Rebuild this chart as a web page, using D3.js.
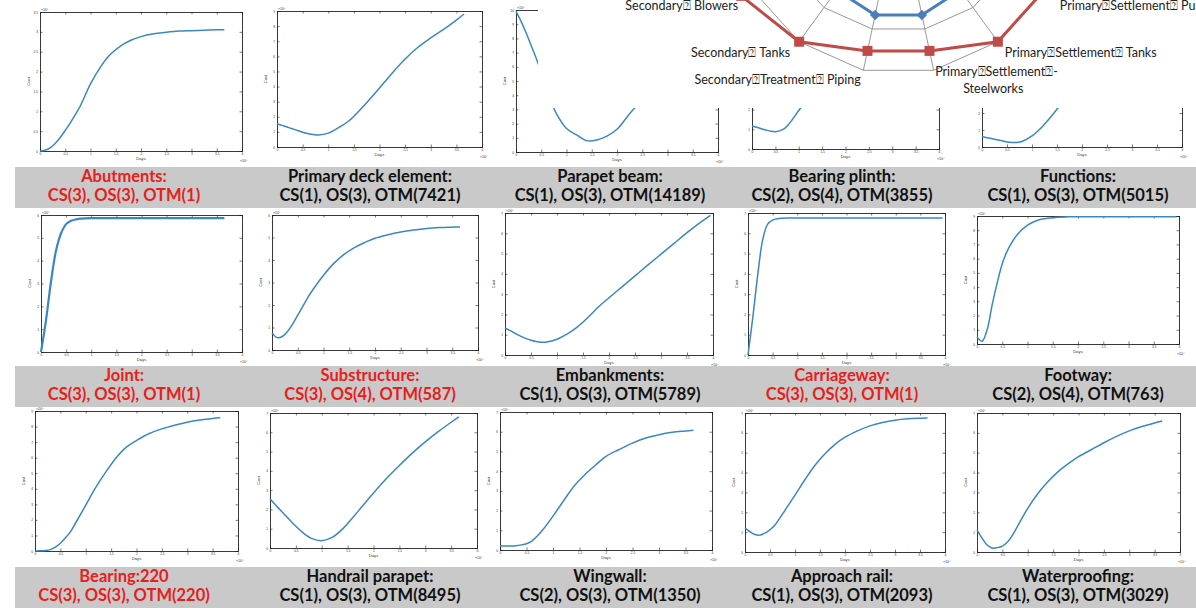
<!DOCTYPE html>
<html><head><meta charset="utf-8">
<script src="https://cdn.jsdelivr.net/npm/d3@7"></script>
<style>body{margin:0;background:#fff}svg{display:block}</style>
</head><body>
<svg id="c" width="1196" height="608"></svg>
<script>
// ---------- DATA ----------
const days = [0,0.1,0.2,0.3,0.4,0.5,0.6,0.7,0.8,1.0,1.2,1.4,1.6,1.8,2.0,2.25,2.5,2.75,3.0,3.25,3.5,3.65,3.95]; // x10^4
const abutments     = [0,0.02,0.08,0.19,0.34,0.52,0.71,0.92,1.14,1.69,2.12,2.44,2.65,2.79,2.88,2.95,2.99,3.02,3.03,3.04,3.05,3.05,null];
const primaryDeck   = [1.54,1.43,1.32,1.21,1.09,0.98,0.89,0.82,0.80,0.92,1.28,1.72,2.38,3.12,3.90,4.90,5.82,6.60,7.22,7.78,8.40,8.80,null];
const parapetBeam   = [9.9,9.2,8.4,7.5,6.6,5.6,4.6,3.5,2.7,1.65,1.2,0.8,0.85,1.12,1.6,2.7,3.7,4.8,5.8,6.9,8.0,8.6,null];
const bearingPlinth = [1.17,1.1,1.03,0.96,0.9,0.88,0.93,1.05,1.3,1.95,2.6,3.2,3.8,4.3,4.8,5.3,5.7,6.0,6.25,6.45,6.6,6.65,null];
const functionsCost = [0.62,0.55,0.49,0.43,0.37,0.3,0.27,0.27,0.32,0.65,1.18,1.85,2.6,3.35,4.1,4.9,5.6,6.2,6.7,7.1,7.4,7.55,null];
const joint         = [0,1.4,3.1,4.45,5.2,5.6,5.75,5.81,5.84,5.86,5.86,5.86,5.86,5.86,5.86,5.86,5.86,5.86,5.86,5.86,5.86,5.86,null];
const substructure  = [0.76,0.55,0.6,0.82,1.15,1.55,1.95,2.35,2.7,3.32,3.85,4.25,4.55,4.78,4.97,5.12,5.24,5.33,5.4,5.44,5.46,5.47,null];
const embankments   = [1.33,1.2,1.06,0.93,0.82,0.73,0.66,0.63,0.64,0.78,1.04,1.4,1.86,2.38,2.82,3.36,3.9,4.44,4.97,5.5,6.03,6.33,6.88];
const carriageway   = [0,1.9,4.0,5.7,6.45,6.65,6.72,6.74,6.75,6.75,6.75,6.75,6.75,6.75,6.75,6.75,6.75,6.75,6.75,6.75,6.75,6.75,6.75];
const footway       = [0.47,0.2,1.0,2.75,4.3,5.65,6.55,7.2,7.7,8.35,8.7,8.84,8.92,8.94,8.95,8.95,8.95,8.95,8.95,8.95,8.95,8.95,8.95];
const bearing       = [0,0.01,0.03,0.09,0.25,0.5,0.85,1.25,1.8,2.95,4.1,5.1,6.0,6.68,7.1,7.55,7.85,8.08,8.28,8.42,8.52,8.56,null];
const handrail      = [2.55,2.25,1.97,1.68,1.4,1.13,0.88,0.66,0.5,0.38,0.55,0.98,1.58,2.22,2.85,3.6,4.28,4.92,5.5,6.03,6.52,6.8,null];
const wingwall      = [0.2,0.2,0.2,0.22,0.26,0.32,0.45,0.7,1.0,1.72,2.5,3.25,3.82,4.3,4.75,5.1,5.42,5.68,5.85,5.97,6.04,6.08,null];
const approachRail  = [1.2,1.02,0.88,0.85,0.95,1.12,1.36,1.72,2.1,2.86,3.65,4.37,4.95,5.42,5.78,6.1,6.35,6.52,6.64,6.71,6.74,6.75,null];
const waterproofing = [1.1,0.7,0.35,0.2,0.22,0.3,0.5,0.85,1.3,2.2,2.95,3.55,4.05,4.45,4.8,5.15,5.5,5.82,6.1,6.32,6.5,6.6,null];

const panelSeries = [abutments, primaryDeck, parapetBeam, bearingPlinth, functionsCost,
                     joint, substructure, embankments, carriageway, footway,
                     bearing, handrail, wingwall, approachRail, waterproofing];
const panelYMax   = [3.5, 9, 10, 7, 8, 6, 6, 7, 7, 9, 9, 7, 7, 7, 7];
const panelYStep  = [0.5, 1, 1, 1, 1, 1, 1, 1, 1, 1, 1, 1, 1, 1, 1];
const panelTitles = ["Abutments:", "Primary deck element:", "Parapet beam:", "Bearing plinth:", "Functions:",
                     "Joint:", "Substructure:", "Embankments:", "Carriageway:", "Footway:",
                     "Bearing:220", "Handrail parapet:", "Wingwall:", "Approach rail:", "Waterproofing:"];
const panelStats  = ["CS(3), OS(3), OTM(1)", "CS(1), OS(3), OTM(7421)", "CS(1), OS(3), OTM(14189)", "CS(2), OS(4), OTM(3855)", "CS(1), OS(3), OTM(5015)",
                     "CS(3), OS(3), OTM(1)", "CS(3), OS(4), OTM(587)", "CS(1), OS(3), OTM(5789)", "CS(3), OS(3), OTM(1)", "CS(2), OS(4), OTM(763)",
                     "CS(3), OS(3), OTM(220)", "CS(1), OS(3), OTM(8495)", "CS(2), OS(3), OTM(1350)", "CS(1), OS(3), OTM(2093)", "CS(1), OS(3), OTM(3029)"];
const panelCritical = [true,false,false,false,false, true,true,false,true,false, true,false,false,false,false];
const xTicks = [0,0.5,1,1.5,2,2.5,3,3.5,4];

// radar (15 categories, first at top, clockwise); only the lower ones are visible
const radarCategories = ["","","","","","Primary\u2370Settlement\u2370 Pumps","Primary\u2370Settlement\u2370 Tanks",
  "Primary\u2370Settlement\u2370-|Steelworks","Secondary\u2370Treatment\u2370 Piping","Secondary\u2370 Tanks","Secondary\u2370 Blowers","","","",""];
const radarRed  = [4,4,4,4,4,4.0,4.0,3.53,3.53,4.0,4.3,4,4,4,4];
const radarBlue = [2.5,2.5,2.5,2.5,2.5,2.5,2.49,2.66,2.66,2.49,2.5,2.5,2.5,2.5,2.5];
const radarRings = [1,2,3,4];

// ---------- LAYOUT ----------
const frames = [ // x0,x1,y0,y1
  [40,242,12,151],[277,482,11,147],[516,718,10,152],[752,939,11,149],[982,1182,11,147],
  [41,242,215,352],[272,478,215,350],[505,713,213,355],[748,945,213,355],[977,1179,216,344],
  [35,238,411,551],[270,477,413,548],[500,712,412,550],[745,945,413,552],[977,1180,413,552]];
const labelCx = [124,370,610,842,1078];
const bands = [[167,208],[366,407],[567,608]];
// radar label offsets from each axis' outer vertex (layout only)
const radarLabelDx = [0,0,0,0,0,15,7,1.5,-2.5,-9,-14,0,0,0,0];
const radarLabelDy = [0,0,0,0,0,16,11,1,9.5,11,16,0,0,0,0];

const svg = d3.select("#c");
const lineColor = "#3a88bf";

// ---------- PANELS ----------
panelSeries.forEach((vals, i) => {
  const [x0,x1,y0,y1] = frames[i];
  const g = svg.append("g");
  const x = d3.scaleLinear().domain([0,4]).range([x0,x1]);
  const y = d3.scaleLinear().domain([0,panelYMax[i]]).range([y1,y0]);
  const yTicks = d3.range(0, panelYMax[i] + 1e-9, panelYStep[i]);
  const fmt = d3.format("~g");
  const tickFont = "Liberation Sans, Arial, sans-serif";

  const axB = d3.axisBottom(x).tickValues(xTicks).tickSize(-2.5).tickPadding(2).tickFormat(fmt);
  const axT = d3.axisTop(x).tickValues(xTicks).tickSize(-2.5).tickFormat("");
  const axL = d3.axisLeft(y).tickValues(yTicks).tickSize(-2.5).tickPadding(2).tickFormat(fmt);
  const axR = d3.axisRight(y).tickValues(yTicks).tickSize(-2.5).tickFormat("");
  [[axB,`translate(0,${y1})`],[axT,`translate(0,${y0})`],[axL,`translate(${x0},0)`],[axR,`translate(${x1},0)`]].forEach(([ax,tr])=>{
    const a = g.append("g").attr("transform",tr).call(ax);
    a.select(".domain").attr("stroke","#222").attr("stroke-width",0.9);
    a.selectAll(".tick line").attr("stroke","#222").attr("stroke-width",0.6);
    a.selectAll("text").attr("font-size",3.2).attr("fill","#333").attr("font-family",tickFont);
  });
  g.append("text").attr("x",(x0+x1)/2).attr("y",y1+9).attr("text-anchor","middle")
    .attr("font-size",4.2).attr("font-family",tickFont).attr("fill","#333").text("Days");
  g.append("text").attr("transform",`translate(${x0-10},${(y0+y1)/2}) rotate(-90)`).attr("text-anchor","middle")
    .attr("font-size",4.2).attr("font-family",tickFont).attr("fill","#333").text("Cost");
  g.append("text").attr("x",x1-2).attr("y",y1+11).attr("font-size",3.6).attr("font-family",tickFont).attr("fill","#333").text("\u00d710\u2074");
  g.append("text").attr("x",x0+1).attr("y",y0-1.5).attr("font-size",3.6).attr("font-family",tickFont).attr("fill","#333").text("\u00d710\u2075");

  const line = d3.line().defined(d => d[1] !== null).x(d => x(d[0])).y(d => y(d[1])).curve(d3.curveCatmullRom.alpha(0.5));
  g.append("path").datum(days.map((d,k)=>[d, vals[k]]))
    .attr("d", line).attr("fill","none").attr("stroke",lineColor)
    .attr("stroke-width", i===5 ? 2.2 : 1.5).attr("stroke-linejoin","round");
});

// ---------- LABEL BANDS ----------
bands.forEach(([t,b], r) => {
  svg.append("rect").attr("x",15).attr("y",t).attr("width",1196-15).attr("height",b-t).attr("fill","#c9c9c9");
  for (let c = 0; c < 5; c++) {
    const i = r*5 + c;
    const col = panelCritical[i] ? "#e8201c" : "#111";
    const tx = svg.append("text").attr("x",labelCx[c]).attr("text-anchor","middle")
      .attr("font-family","Lato, 'Open Sans', sans-serif").attr("font-weight","bold").attr("font-size",16.5).attr("fill",col);
    tx.append("tspan").attr("x",labelCx[c]).attr("y",t+15).text(panelTitles[i]);
    tx.append("tspan").attr("x",labelCx[c]).attr("y",t+34).text(panelStats[i]);
  }
});

// ---------- RADAR OVERLAY ----------
const rg = svg.append("g");
rg.append("rect").attr("x",538).attr("y",0).attr("width",1196-538).attr("height",108).attr("fill","#fff");
const cx = 898.5, cy = -95, R = 169, N = radarCategories.length;
const rScale = d3.scaleLinear().domain([0,4]).range([0,R]);
const ang = k => k * 2*Math.PI/N;
const pt = (k, v) => [cx + rScale(v)*Math.sin(ang(k)), cy - rScale(v)*Math.cos(ang(k))];
radarRings.forEach(rv => {
  rg.append("path").attr("d", d3.line()(d3.range(N+1).map(k => pt(k%N, rv))))
    .attr("fill","none").attr("stroke","#8c8c8c").attr("stroke-width",0.9);
});
d3.range(N).forEach(k => {
  rg.append("line").attr("x1",cx).attr("y1",cy).attr("x2",pt(k,4)[0]).attr("y2",pt(k,4)[1])
    .attr("stroke","#8c8c8c").attr("stroke-width",0.9);
});
const radarLine = d3.line();
rg.append("path").attr("d", radarLine(d3.range(N+1).map(k=>pt(k%N, radarBlue[k%N]))))
  .attr("fill","none").attr("stroke","#4a7ebb").attr("stroke-width",3);
radarBlue.forEach((v,k) => {
  const [px,py] = pt(k,v);
  rg.append("path").attr("d", d3.symbol(d3.symbolDiamond2, 70)()).attr("transform",`translate(${px},${py})`).attr("fill","#4a7ebb");
});
rg.append("path").attr("d", radarLine(d3.range(N+1).map(k=>pt(k%N, radarRed[k%N]))))
  .attr("fill","none").attr("stroke","#be4b48").attr("stroke-width",3);
radarRed.forEach((v,k) => {
  const [px,py] = pt(k,v);
  rg.append("rect").attr("x",px-5).attr("y",py-5).attr("width",10).attr("height",10).attr("fill","#be4b48");
});
radarCategories.forEach((name,k) => {
  if (!name) return;
  const s = Math.sin(ang(k));
  const [vx,vy] = pt(k,4);
  const lx = vx + radarLabelDx[k], ly = vy + radarLabelDy[k];
  const parts = name.split("|");
  const t = rg.append("text").attr("font-family","Lato, 'DejaVu Sans', sans-serif").attr("font-size",12.5).attr("fill","#222")
    .attr("text-anchor", s > 0 ? "start" : "end");
  parts.forEach((p,j) => t.append("tspan").attr("x", lx + (j>0 ? 28 : 0)).attr("y", ly + j*17).attr("dy","0.35em").text(p));
});
</script>
</body></html>
